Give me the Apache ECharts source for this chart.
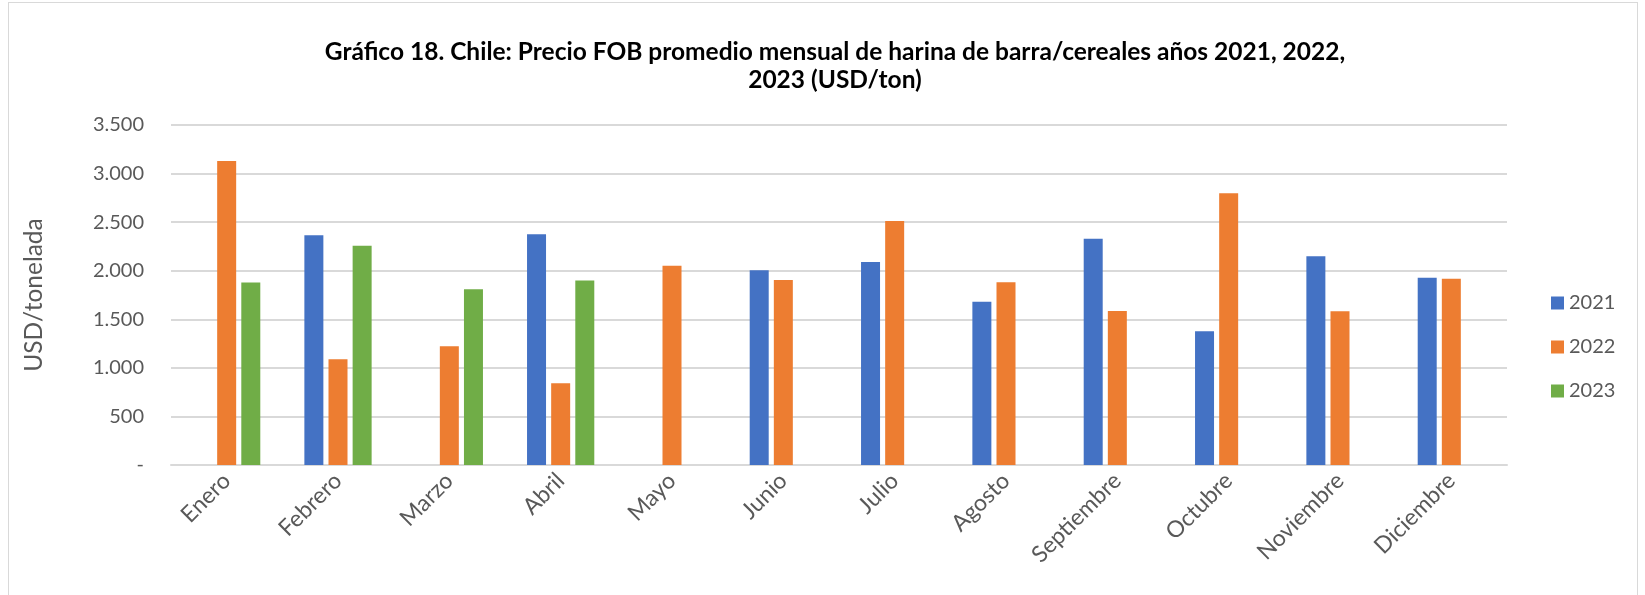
<!DOCTYPE html>
<html>
<head>
<meta charset="utf-8">
<script src="https://cdn.jsdelivr.net/npm/echarts@6/dist/echarts.min.js"></script>
<style>
  html, body { margin: 0; padding: 0; background: #fff; }
  #frame { position: absolute; left: 8px; top: 2px; width: 1630px; height: 600px; border: 1px solid #d9d9d9; box-sizing: border-box; }
  #chart { width: 1645px; height: 595px; }
</style>
</head>
<body>
<div id="frame"></div>
<div id="chart"></div>
<script>
// meses y precios FOB (USD/ton)
const meses = ['Enero', 'Febrero', 'Marzo', 'Abril', 'Mayo', 'Junio', 'Julio', 'Agosto', 'Septiembre', 'Octubre', 'Noviembre', 'Diciembre'];
const precios2021 = [null, 2365, null, 2375, null, 2004, 2090, 1681, 2330, 1376, 2148, 1928];
const precios2022 = [3130, 1088, 1222, 841, 2052, 1904, 2512, 1881, 1585, 2797, 1582, 1918];
const precios2023 = [1878, 2258, 1808, 1898, null, null, null, null, null, null, null, null];
const anios = ['2021', '2022', '2023'];
const colores = ['#4472C4', '#ED7D31', '#70AD47'];

const fuente = 'Lato';

function fmtMiles(v) {
  if (v === 0) return '-';
  return String(v).replace(/\B(?=(\d{3})+(?!\d))/g, '.');
}

const chart = echarts.init(document.getElementById('chart'), null, { renderer: 'canvas' });

const series = [precios2021, precios2022, precios2023].map((d, i) => ({
  name: anios[i],
  type: 'bar',
  data: d,
  barWidth: 19,
  barGap: '27%',
  itemStyle: { color: colores[i] }
}));

chart.setOption({
  animation: false,
  title: {
    text: 'Gráfico 18. Chile: Precio FOB promedio mensual de harina de barra/cereales años 2021, 2022,\n2023 (USD/ton)',
    left: 830,
    top: 33,
    textAlign: 'center',
    textStyle: { fontFamily: fuente, fontWeight: 'bold', fontSize: 24.5, lineHeight: 28, color: '#000' }
  },
  legend: {
    orient: 'vertical',
    left: 1546,
    top: 288,
    itemWidth: 13,
    itemHeight: 13,
    itemGap: 24,
    icon: 'rect',
    textStyle: { fontFamily: fuente, fontSize: 20, color: '#595959' },
    data: anios
  },
  grid: { left: 171, right: 138, top: 125, bottom: 130, containLabel: false },
  xAxis: {
    type: 'category',
    data: meses,
    axisLine: { lineStyle: { color: '#d9d9d9', width: 2 } },
    axisTick: { show: false },
    axisLabel: { rotate: 45, fontFamily: fuente, fontSize: 23, color: '#595959', margin: 12, interval: 0 }
  },
  yAxis: {
    type: 'value',
    min: 0,
    max: 3500,
    interval: 500,
    name: 'USD/tonelada',
    nameLocation: 'middle',
    nameGap: 124,
    nameTextStyle: { fontFamily: fuente, fontSize: 24.5, color: '#595959' },
    axisLine: { show: false },
    axisTick: { show: false },
    splitLine: { lineStyle: { color: '#d9d9d9', width: 2 } },
    axisLabel: { formatter: fmtMiles, fontFamily: fuente, fontSize: 20, color: '#595959', margin: 27 }
  },
  series: series
});
</script>
</body>
</html>
